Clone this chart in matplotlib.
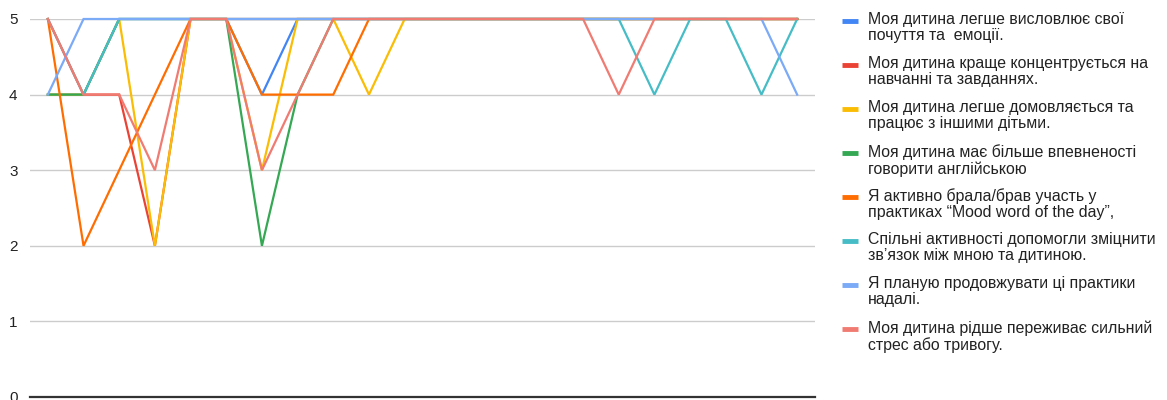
import matplotlib
matplotlib.use("Agg")
import matplotlib.pyplot as plt
from matplotlib.lines import Line2D

plt.rcParams['font.family'] = ['Liberation Sans', 'DejaVu Sans']

# номер відповіді (22 респонденти)
vidpovidi = list(range(22))

blue = [4, 4, 5, 5, 5, 5, 4, 5, 5, 5, 5, 5, 5, 5, 5, 5, 5, 5, 5, 5, 5, 5]
red = [5, 4, 4, 2, 5, 5, 5, 5, 5, 5, 5, 5, 5, 5, 5, 5, 5, 5, 5, 5, 5, 5]
yellow = [4, 4, 5, 2, 5, 5, 3, 5, 5, 4, 5, 5, 5, 5, 5, 5, 5, 5, 5, 5, 5, 5]
green = [4, 4, 5, 5, 5, 5, 2, 4, 5, 5, 5, 5, 5, 5, 5, 5, 5, 5, 5, 5, 5, 5]
orange = [5, 2, 3, 4, 5, 5, 4, 4, 4, 5, 5, 5, 5, 5, 5, 5, 5, 5, 5, 5, 5, 5]
teal = [5, 4, 5, 5, 5, 5, 5, 5, 5, 5, 5, 5, 5, 5, 5, 5, 5, 4, 5, 5, 4, 5]
light_blue = [4, 5, 5, 5, 5, 5, 5, 5, 5, 5, 5, 5, 5, 5, 5, 5, 5, 5, 5, 5, 5, 4]
pink = [5, 4, 4, 3, 5, 5, 3, 4, 5, 5, 5, 5, 5, 5, 5, 5, 4, 5, 5, 5, 5, 5]

nazvy = [
    "Моя дитина легше висловлює свої\nпочуття та  емоції.",
    "Моя дитина краще концентрується на\nнавчанні та завданнях.",
    "Моя дитина легше домовляється та\nпрацює з іншими дітьми.",
    "Моя дитина має більше впевненості\nговорити англійською",
    "Я активно брала/брав участь у\nпрактиках “Mood word of the day”,",
    "Спільні активності допомогли зміцнити\nзв’язок між мною та дитиною.",
    "Я планую продовжувати ці практики\nнадалі.",
    "Моя дитина рідше переживає сильний\nстрес або тривогу.",
]
kolory = ['#4285F4', '#EA4335', '#FBBC04', '#34A853',
          '#FF6D01', '#46BDC6', '#7BAAF7', '#F07B72']
ryady = [blue, red, yellow, green, orange, teal, light_blue, pink]

W, H = 1167, 400
fig = plt.figure(figsize=(W / 100, H / 100), dpi=100)
ax = fig.add_axes([30 / W, 3 / H, (815 - 30) / W, (397 - 19) / H])

for i, (ryad, kolir) in enumerate(zip(ryady, kolory)):
    ax.plot(vidpovidi, ryad, color=kolir, lw=1.6, clip_on=False,
            solid_joinstyle='miter', zorder=3 + i)

ax.set_xlim(-0.5, 21.5)
ax.set_ylim(0, 5)
ax.set_yticks([0, 1, 2, 3, 4, 5])
ax.set_xticks([])
ax.grid(axis='y', color='#cccccc', lw=1)
ax.axhline(0, color='#333333', lw=1.6, zorder=20, clip_on=False)
for s in ax.spines.values():
    s.set_visible(False)
ax.tick_params(axis='y', length=0, pad=9, labelsize=11, labelcolor='#222222')

# легенда
y0 = 21
for k, (nazva, kolir) in enumerate(zip(nazvy, kolory)):
    y = y0 + k * 44
    fig.add_artist(Line2D([842 / W, 858 / W], [1 - y / H, 1 - y / H],
                          color=kolir, lw=3.5, solid_capstyle='butt'))
    fig.text(868 / W, 1 - (y - 9) / H, nazva, fontsize=11.4, color='#222222',
             va='top', ha='left', linespacing=1.12)

fig.savefig('out.png', dpi=100, facecolor='white')
